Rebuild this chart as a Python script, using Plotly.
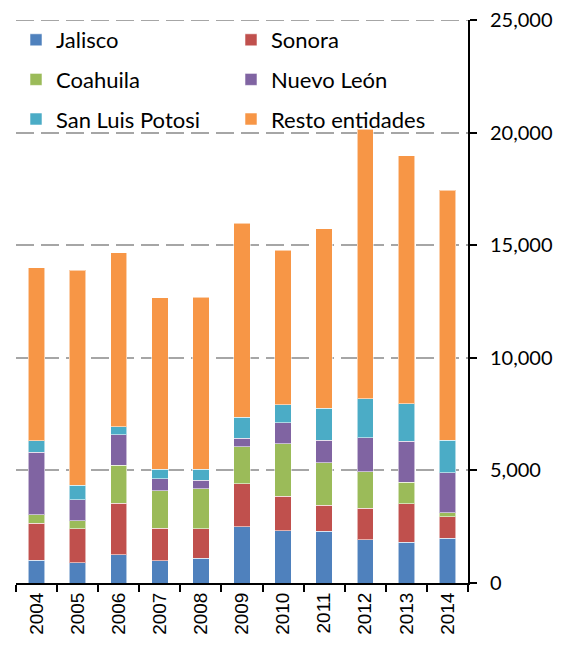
import plotly.graph_objects as go

years = ["2004", "2005", "2006", "2007", "2008", "2009", "2010", "2011", "2012", "2013", "2014"]

jalisco = [1020, 890, 1250, 980, 1100, 2500, 2330, 2300, 1930, 1810, 1990]
sonora = [1630, 1510, 2300, 1450, 1300, 1900, 1530, 1160, 1390, 1720, 950]
coahuila = [390, 370, 1675, 1675, 1780, 1660, 2330, 1880, 1620, 950, 180]
nuevo_leon = [2770, 935, 1350, 535, 385, 370, 920, 1010, 1500, 1820, 1780]
san_luis_potosi = [500, 640, 370, 415, 490, 920, 800, 1420, 1750, 1650, 1440]
resto_entidades = [7690, 9535, 7710, 7615, 7645, 8615, 6875, 7970, 11965, 11030, 11090]

y_ticks = [0, 5000, 10000, 15000, 20000, 25000]

series = [
    ("Jalisco", jalisco, "#4F81BD", "legend"),
    ("Sonora", sonora, "#C0504D", "legend2"),
    ("Coahuila", coahuila, "#9BBB59", "legend"),
    ("Nuevo León", nuevo_leon, "#8064A2", "legend2"),
    ("San Luis Potosi", san_luis_potosi, "#4BACC6", "legend"),
    ("Resto entidades", resto_entidades, "#F79646", "legend2"),
]

# the page body keeps its default 8px margin, so the figure is drawn 8px in
PAGE_OFFSET = 8
W, H = 561 - PAGE_OFFSET, 646 - PAGE_OFFSET
MARGIN = dict(l=8, r=93, t=12, b=63)
PLOT_W = W - MARGIN["l"] - MARGIN["r"]
PLOT_H = H - MARGIN["t"] - MARGIN["b"]
LEGEND_FONT = dict(family="Lato, 'Open Sans', sans-serif", size=22, color="#000000")
GRID_COLOR = "#A6A6A6"
GRID_DASH = "18px,7px"

fig = go.Figure()
for name, values, color, legend_id in series:
    fig.add_trace(go.Bar(
        x=years,
        y=values,
        name=name,
        legend=legend_id,
        legendgroup=name,
        marker=dict(color=color, line=dict(color="rgba(255,255,255,0.55)", width=1)),
    ))

# plotly skips the grid line sitting on the top edge, draw it by hand
fig.add_hline(y=y_ticks[-1], line=dict(color=GRID_COLOR, width=2, dash=GRID_DASH), layer="below")


def legend_box(left_px, top_px):
    # page pixel position -> paper coords inside the plot area
    return dict(
        xref="paper", yref="paper",
        x=(left_px - PAGE_OFFSET - MARGIN["l"]) / PLOT_W,
        y=1 - (top_px - PAGE_OFFSET - MARGIN["t"]) / PLOT_H,
        xanchor="left", yanchor="top",
        orientation="v",
        traceorder="grouped",
        tracegroupgap=8,
        bgcolor="rgba(0,0,0,0)",
        borderwidth=0,
        font=LEGEND_FONT,
    )


fig.update_layout(
    width=W,
    height=H,
    barmode="stack",
    bargap=0.6,
    paper_bgcolor="#ffffff",
    plot_bgcolor="#ffffff",
    margin=MARGIN,
    font=dict(family="'Liberation Sans', Arial, sans-serif", color="#000000"),
    legend=legend_box(16, 19),
    legend2=legend_box(231, 19),
    xaxis=dict(
        type="category",
        automargin=False,
        showgrid=False,
        showline=True,
        linecolor="#000000",
        linewidth=2,
        ticks="outside",
        tickson="boundaries",
        ticklen=7,
        tickwidth=2,
        tickcolor="#000000",
        tickangle=-90,
        tickfont=dict(family="'Liberation Sans', Arial, sans-serif", size=19, color="#000000"),
    ),
    yaxis=dict(
        side="right",
        automargin=False,
        range=[0, 25000],
        tickvals=y_ticks,
        tickformat=",",
        ticklabeloverflow="allow",
        showline=True,
        linecolor="#000000",
        linewidth=2,
        ticks="outside",
        ticklen=7,
        tickwidth=2,
        tickcolor="#000000",
        showgrid=True,
        gridcolor=GRID_COLOR,
        gridwidth=2,
        griddash=GRID_DASH,
        zeroline=False,
        ticklabelstandoff=9,
        tickfont=dict(family="Lato, 'Open Sans', sans-serif", size=20, color="#000000"),
    ),
)

fig.write_html("out.html")
